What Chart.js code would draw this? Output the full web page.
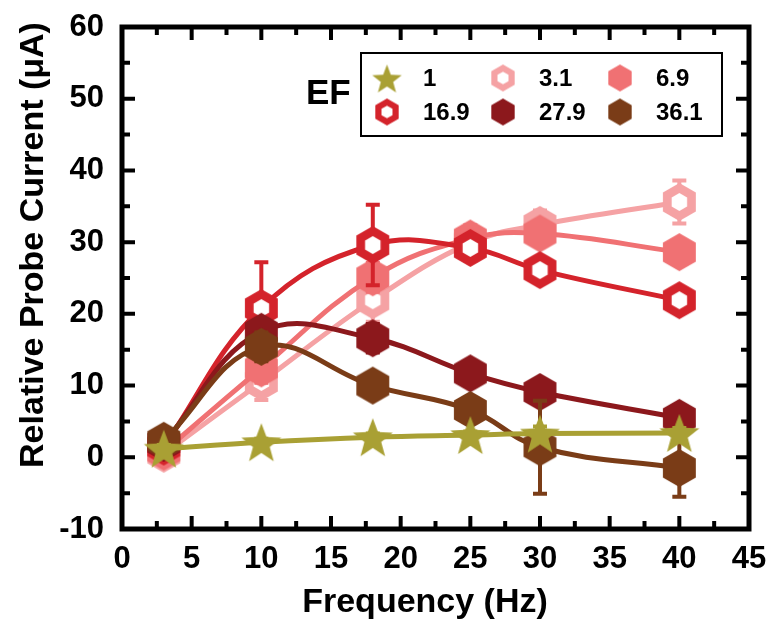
<!DOCTYPE html>
<html>
<head>
<meta charset="utf-8">
<script src="https://cdn.jsdelivr.net/npm/chart.js@4"></script>
<style>
    html, body { margin: 0; padding: 0; background: #fff; }
</style>
</head>
<body>
<canvas id="graficoSonda" width="773" height="624"></canvas>
<script>
// frequencias (Hz) e correntes relativas (uA)
var frequencias = [3, 10, 18, 25, 30, 40];
var rotulosEF = ['1', '3.1', '6.9', '16.9', '27.9', '36.1'];
var coresEF = ['#a9a034', '#f5a2a4', '#f07173', '#d4232b', '#8c181c', '#7a3c17'];

var corrente_EF1 = [1.2, 2.1, 2.8, 3.1, 3.3, 3.4];
var corrente_EF3 = [0.5, 10.5, 21.9, 29.9, 32.4, 35.6];
var corrente_EF7 = [0.8, 12.4, 25.1, 30.5, 31.2, 28.6];
var corrente_EF17 = [1.5, 20.8, 29.6, 29.2, 26.1, 21.9];
var corrente_EF28 = [2.0, 17.5, 16.6, 11.7, 9.1, 5.5];
var corrente_EF36 = [2.3, 15.4, 10.0, 6.6, 1.4, -1.5];

var erro_EF1 = [0.5, 0.5, 0.5, 0.5, 1.0, 0.7];
var erro_EF3 = [0.8, 2.5, 3.0, 2.5, 2.0, 3.0];
var erro_EF7 = [0.8, 2.0, 2.0, 1.5, 1.5, 1.0];
var erro_EF17 = [1.0, 6.4, 5.6, 1.5, 1.5, 1.0];
var erro_EF28 = [1.0, 1.5, 2.0, 1.0, 1.0, 1.0];
var erro_EF36 = [1.0, 2.0, 1.5, 1.5, 6.5, 4.0];

var correntes = [corrente_EF1, corrente_EF3, corrente_EF7, corrente_EF17, corrente_EF28, corrente_EF36];
var erros = [erro_EF1, erro_EF3, erro_EF7, erro_EF17, erro_EF28, erro_EF36];
var ocos = [false, true, false, true, false, false];
var ordemDesenho = [0, 5, 4, 3, 2, 1];

var fonte = "'Liberation Sans', Arial, sans-serif";

function criarHexagono(cor, raio, oco) {
    var c = document.createElement('canvas');
    var larg = Math.ceil(raio * Math.sqrt(3)) + 2;
    var alt = raio * 2 + 2;
    c.width = larg;
    c.height = alt;
    var ctx = c.getContext('2d');
    function poligono(r) {
        ctx.beginPath();
        for (var i = 0; i < 6; i++) {
            var a = -Math.PI / 2 + i * Math.PI / 3;
            var px = larg / 2 + r * Math.cos(a);
            var py = alt / 2 + r * Math.sin(a);
            if (i === 0) ctx.moveTo(px, py); else ctx.lineTo(px, py);
        }
        ctx.closePath();
    }
    ctx.fillStyle = cor;
    poligono(raio);
    ctx.fill();
    if (oco) {
        ctx.fillStyle = '#fff';
        poligono(raio * 0.47);
        ctx.fill();
    }
    return c;
}

function criarEstrela(cor, raio) {
    var c = document.createElement('canvas');
    var tam = raio * 2 + 2;
    c.width = tam;
    c.height = tam;
    var ctx = c.getContext('2d');
    ctx.beginPath();
    for (var i = 0; i < 10; i++) {
        var r = i % 2 === 0 ? raio : raio * 0.42;
        var a = -Math.PI / 2 + i * Math.PI / 5;
        var px = tam / 2 + r * Math.cos(a);
        var py = tam / 2 + 2 + r * Math.sin(a);
        if (i === 0) ctx.moveTo(px, py); else ctx.lineTo(px, py);
    }
    ctx.closePath();
    ctx.fillStyle = cor;
    ctx.fill();
    return c;
}

function marcador(i, tamanho) {
    if (i === 0) return criarEstrela(coresEF[i], tamanho + 2);
    return criarHexagono(coresEF[i], tamanho, ocos[i]);
}

var datasets = [];
for (var i = 0; i < rotulosEF.length; i++) {
    datasets.push({
        label: rotulosEF[i],
        data: frequencias.map(function (f, k) { return { x: f, y: correntes[i][k] }; }),
        borderColor: coresEF[i],
        backgroundColor: coresEF[i],
        borderWidth: 5,
        tension: 0.4,
        fill: false,
        pointStyle: marcador(i, 19),
        pointRadius: 19,
        order: ordemDesenho[i],
        clip: false
    });
}

// barras de erro, desenhadas antes de cada serie
var barrasErro = {
    id: 'barrasErro',
    beforeDatasetDraw: function (chart, args) {
        var idx = args.index;
        var ctx = chart.ctx;
        var sx = chart.scales.x, sy = chart.scales.y;
        ctx.save();
        ctx.strokeStyle = coresEF[idx];
        ctx.lineWidth = 4;
        for (var k = 0; k < frequencias.length; k++) {
            var px = sx.getPixelForValue(frequencias[k]);
            var y1 = sy.getPixelForValue(correntes[idx][k] + erros[idx][k]);
            var y2 = sy.getPixelForValue(correntes[idx][k] - erros[idx][k]);
            ctx.beginPath();
            ctx.moveTo(px, y1); ctx.lineTo(px, y2);
            ctx.moveTo(px - 7, y1); ctx.lineTo(px + 7, y1);
            ctx.moveTo(px - 7, y2); ctx.lineTo(px + 7, y2);
            ctx.stroke();
        }
        ctx.restore();
    }
};

// moldura, marcas internas, titulos dos eixos e legenda
var moldura = {
    id: 'moldura',
    afterDraw: function (chart) {
        var ctx = chart.ctx;
        var a = chart.chartArea;
        var sx = chart.scales.x, sy = chart.scales.y;
        ctx.save();
        ctx.strokeStyle = '#000';
        ctx.lineWidth = 4;
        for (var v = -10; v <= 60; v += 5) {
            var py = sy.getPixelForValue(v);
            var t = v % 10 === 0 ? 13 : 8;
            ctx.beginPath();
            ctx.moveTo(a.left, py); ctx.lineTo(a.left + t, py);
            ctx.moveTo(a.right, py); ctx.lineTo(a.right - t, py);
            ctx.stroke();
        }
        for (var f = 0; f <= 45; f += 2.5) {
            var px = sx.getPixelForValue(f);
            var t2 = f % 5 === 0 ? 13 : 8;
            ctx.beginPath();
            ctx.moveTo(px, a.bottom); ctx.lineTo(px, a.bottom - t2);
            ctx.moveTo(px, a.top); ctx.lineTo(px, a.top + t2);
            ctx.stroke();
        }
        ctx.lineWidth = 5;
        ctx.strokeRect(a.left, a.top, a.right - a.left, a.bottom - a.top);

        ctx.fillStyle = '#000';
        ctx.font = 'bold 34px ' + fonte;
        ctx.textAlign = 'center';
        ctx.textBaseline = 'alphabetic';
        ctx.fillText('Frequency (Hz)', 425, 612);
        ctx.save();
        ctx.translate(43, 245);
        ctx.rotate(-Math.PI / 2);
        ctx.fillText('Relative Probe Current (\u03bcA)', 0, 0);
        ctx.restore();

        // legenda
        ctx.lineWidth = 2;
        ctx.strokeRect(361, 53, 361, 83);
        ctx.font = 'bold 35px ' + fonte;
        ctx.textAlign = 'left';
        ctx.textBaseline = 'middle';
        ctx.fillText('EF', 306, 94);
        ctx.font = 'bold 24px ' + fonte;
        var colsX = [387, 503, 620];
        var linhasY = [78, 112];
        for (var i = 0; i < rotulosEF.length; i++) {
            var cx = colsX[i % 3], cy = linhasY[Math.floor(i / 3)];
            var m = marcador(i, 13.5);
            ctx.drawImage(m, cx - m.width / 2, cy - m.height / 2);
            ctx.fillText(rotulosEF[i], cx + 36, cy + 1);
        }
        ctx.restore();
    }
};

new Chart(document.getElementById('graficoSonda'), {
    type: 'line',
    data: { datasets: datasets },
    options: {
        responsive: false,
        animation: false,
        layout: { padding: { top: 27, right: 23, left: 0, bottom: 0 } },
        plugins: {
            legend: { display: false },
            tooltip: { enabled: false }
        },
        scales: {
            x: {
                type: 'linear',
                min: 0,
                max: 45,
                grid: { display: false, drawTicks: false },
                border: { display: false },
                ticks: {
                    stepSize: 5,
                    autoSkip: false,
                    maxRotation: 0,
                    padding: 12,
                    color: '#000',
                    font: { family: fonte, size: 31, weight: 'bold' }
                },
                afterFit: function (scale) {
                    scale.height = 95;
                    scale.paddingLeft = 0;
                    scale.paddingRight = 0;
                }
            },
            y: {
                min: -10,
                max: 60,
                grid: { display: false, drawTicks: false },
                border: { display: false },
                ticks: {
                    stepSize: 10,
                    padding: 18,
                    color: '#000',
                    font: { family: fonte, size: 31, weight: 'bold' }
                },
                afterFit: function (scale) {
                    scale.width = 122;
                    scale.paddingTop = 0;
                    scale.paddingBottom = 0;
                }
            }
        }
    },
    plugins: [barrasErro, moldura]
});
</script>
</body>
</html>
